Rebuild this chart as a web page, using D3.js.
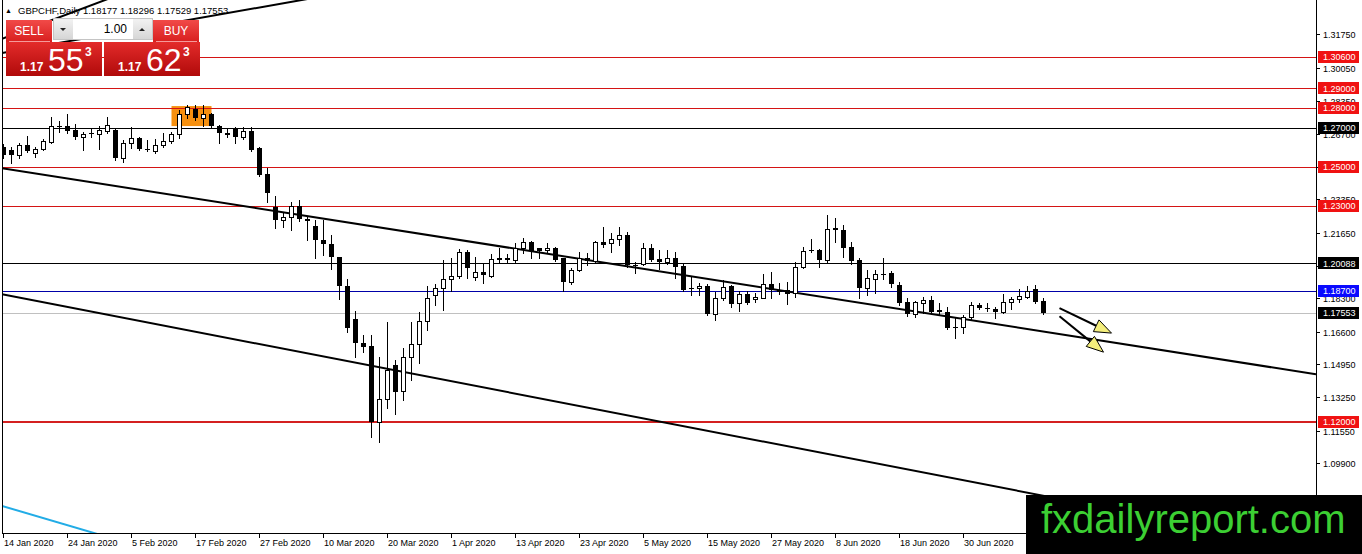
<!DOCTYPE html>
<html><head><meta charset="utf-8">
<script src="https://cdn.jsdelivr.net/npm/d3@7/dist/d3.min.js"></script>
<style>html,body{margin:0;padding:0;background:#fff;overflow:hidden}svg{display:block}</style>
</head><body>
<script>
// ---------------- DATA ----------------
const symbolTitle = "GBPCHF,Daily";
const firstDay = "2020-01-14", lastDay = "2020-07-14";
const dateTickLabels = ["14 Jan 2020","24 Jan 2020","5 Feb 2020","17 Feb 2020","27 Feb 2020","10 Mar 2020","20 Mar 2020","1 Apr 2020","13 Apr 2020","23 Apr 2020","5 May 2020","15 May 2020","27 May 2020","8 Jun 2020","18 Jun 2020","30 Jun 2020"];
const priceTicks = [1.31750,1.30050,1.28350,1.26700,1.25000,1.23350,1.21650,1.19950,1.18300,1.16600,1.14950,1.13250,1.11550,1.09900,1.08200];

const open = [
1.2602,1.2586,1.2561,1.2612,1.2571,1.2591,1.2627,1.2709,1.2709,1.2688,
1.2653,1.2673,1.2668,1.2683,1.2688,1.2546,1.2622,1.2647,1.2591,1.2581,
1.2612,1.2632,1.2668,1.2770,1.2795,1.2749,1.2770,1.2709,1.2673,1.2698,
1.2653,1.2683,1.2596,1.2464,1.2295,1.2229,1.2244,1.2300,1.2234,1.2198,
1.2127,1.2107,1.2040,1.1893,1.1724,1.1602,1.1587,1.1199,1.1316,1.1490,
1.1357,1.1531,1.1597,1.1714,1.1847,1.1882,1.1928,1.1944,1.2066,1.1940,
1.1964,1.1944,1.2030,1.2035,1.2025,1.2086,1.2117,1.2086,1.2076,1.2086,
1.2035,1.1913,1.1974,1.2035,1.2020,1.2117,1.2112,1.2132,1.2153,1.2000,
1.2005,1.2086,1.2030,1.2015,1.2035,1.1994,1.1882,1.1882,1.1893,1.1750,
1.1831,1.1893,1.1806,1.1852,1.1826,1.1831,1.1903,1.1872,1.1872,1.1857,
1.1989,1.2074,1.2076,1.2025,1.2188,1.2178,1.2091,1.2025,1.1882,1.1928,
1.1954,1.1959,1.1898,1.1811,1.1750,1.1806,1.1821,1.1770,1.1760,1.1686,
1.1684,1.1735,1.1796,1.1783,1.1775,1.1760,1.1811,1.1826,1.1837,1.1877,
1.18177];
const high = [
1.2617,1.2602,1.2622,1.2658,1.2602,1.2642,1.2755,1.2734,1.2770,1.2719,
1.2678,1.2698,1.2709,1.2755,1.2698,1.2637,1.2704,1.2653,1.2637,1.2642,
1.2673,1.2678,1.2790,1.2816,1.2816,1.2816,1.2775,1.2714,1.2698,1.2704,
1.2704,1.2704,1.2602,1.2494,1.2352,1.2270,1.2321,1.2331,1.2244,1.2229,
1.2229,1.2153,1.2043,1.1928,1.1765,1.1643,1.1643,1.1531,1.1709,1.1515,
1.1576,1.1709,1.1760,1.1893,1.1903,1.2025,1.2035,1.2081,1.2076,1.2040,
1.2010,1.2056,1.2086,1.2056,1.2112,1.2138,1.2122,1.2089,1.2112,1.2091,
1.2035,1.1984,1.2066,1.2061,1.2122,1.2193,1.2163,1.2193,1.2168,1.2015,
1.2112,1.2107,1.2076,1.2076,1.2066,1.2005,1.1938,1.1908,1.1903,1.1862,
1.1923,1.1898,1.1867,1.1867,1.1857,1.1954,1.1964,1.1908,1.1913,1.2015,
1.2091,1.2132,1.2081,1.2255,1.2239,1.2204,1.2117,1.2035,1.1974,1.1974,
1.2035,1.1969,1.1913,1.1831,1.1816,1.1837,1.1842,1.1806,1.1786,1.1729,
1.1745,1.1811,1.1806,1.1806,1.1786,1.1852,1.1837,1.1877,1.1893,1.1898,
1.18296];
const low = [
1.2546,1.2520,1.2546,1.2576,1.2551,1.2586,1.2622,1.2678,1.2673,1.2642,
1.2586,1.2653,1.2591,1.2673,1.2535,1.2525,1.2596,1.2586,1.2581,1.2571,
1.2602,1.2622,1.2647,1.2749,1.2739,1.2709,1.2704,1.2622,1.2653,1.2622,
1.2642,1.2581,1.2454,1.2321,1.2188,1.2194,1.2178,1.2224,1.2127,1.2035,
1.2051,1.1979,1.1826,1.1658,1.1531,1.1556,1.1122,1.1097,1.1270,1.1240,
1.1311,1.1413,1.1500,1.1668,1.1796,1.1770,1.1867,1.1933,1.1933,1.1923,
1.1908,1.1938,1.2015,1.2015,1.2015,1.2061,1.2035,1.2035,1.2066,1.2020,
1.1867,1.1903,1.1969,1.2000,1.2015,1.2091,1.2066,1.2102,1.1990,1.1959,
1.2000,1.2020,1.1979,1.2005,1.1933,1.1867,1.1847,1.1847,1.1745,1.1719,
1.1821,1.1786,1.1765,1.1801,1.1811,1.1831,1.1831,1.1852,1.1801,1.1837,
1.1984,1.2066,1.1989,1.2015,1.2117,1.2040,1.2005,1.1831,1.1847,1.1857,
1.1928,1.1887,1.1796,1.1740,1.1735,1.1755,1.1755,1.1745,1.1674,1.1627,
1.1653,1.1724,1.1775,1.1765,1.1729,1.1755,1.1775,1.1811,1.1831,1.1808,
1.17529];
const close = [
1.2561,1.2561,1.2612,1.2581,1.2591,1.2632,1.2709,1.2706,1.2683,1.2653,
1.2668,1.2668,1.2688,1.2714,1.2546,1.2622,1.2647,1.2591,1.2588,1.2612,
1.2632,1.2668,1.2770,1.2806,1.2749,1.2770,1.2709,1.2673,1.2665,1.2653,
1.2683,1.2586,1.2459,1.2367,1.2229,1.2244,1.2300,1.2234,1.2224,1.2127,
1.2107,1.2040,1.1893,1.1679,1.1602,1.1582,1.1199,1.1316,1.1464,1.1352,
1.1531,1.1597,1.1714,1.1831,1.1882,1.1928,1.1944,1.2066,1.1984,1.1962,
1.1949,1.2030,1.2035,1.2025,1.2086,1.2117,1.2071,1.2071,1.2086,1.2025,
1.1913,1.1974,1.2035,1.2020,1.2117,1.2102,1.2132,1.2153,1.2000,1.1997,
1.2086,1.2025,1.2015,1.2035,1.1989,1.1872,1.1877,1.1893,1.1750,1.1831,
1.1887,1.1801,1.1852,1.1806,1.1837,1.1903,1.1872,1.1862,1.1852,1.1989,
1.2071,1.2071,1.2025,1.2183,1.2178,1.2086,1.2020,1.1882,1.1933,1.1954,
1.1951,1.1903,1.1806,1.1750,1.1811,1.1821,1.1760,1.1760,1.1679,1.1684,
1.1735,1.1796,1.1780,1.1780,1.1760,1.1811,1.1826,1.1842,1.1867,1.1811,
1.17553];

const redLevels = [1.30600, 1.29000, 1.28000, 1.25000, 1.23000];
const supportLevel = 1.12000;
const blackLevels = [1.27000, 1.20088];
const blueLevels = [1.18700];
const bidLevel = 1.17553;
const askPrice = ["1.17", "62", "3"];
const bidPrice = ["1.17", "55", "3"];
const lotSize = "1.00";

// chart objects anchored at [bar index, price]
const channelTop = [[0, 1.2492], [130, 1.1661]];
const channelBottom = [[0, 1.1849], [130, 1.0824]];
const cyanLine = [[0, 1.0770], [10, 1.0650]];
const upperLine1 = [[0, 1.3082], [30, 1.3298]];
const upperLine2 = [[0, 1.3156], [10, 1.3309]];
const rectangle = [[21, 1.2810], [26, 1.2708]];
const arrows = [[[132, 1.1780], [138.5, 1.1653]], [[132, 1.1739], [137.5, 1.1556]]];

// ---------------- LAYOUT ----------------
const W = 1362, H = 554;
const plot = {left: 2, right: 1316, top: 0, bottom: 533};
const font = "'Liberation Sans', Arial, sans-serif";

const dates = d3.timeDay.range(new Date(firstDay + "T00:00"), d3.timeDay.offset(new Date(lastDay + "T00:00"), 1))
  .filter(d => d.getDay() !== 0 && d.getDay() !== 6);
const fmt = d3.timeFormat("%-d %b %Y");
const n = dates.length;

const x = d3.scaleLinear().domain([0, n - 1]).range([3.5, 3.5 + 8 * (n - 1)]);
const y = d3.scaleLinear().domain([1.306, 1.12]).range([57, 422]);
const crisp = v => Math.round(v) + 0.5;

const svg = d3.select("body").append("svg").attr("width", W).attr("height", H)
  .style("font-family", font);
svg.append("rect").attr("width", W).attr("height", H).attr("fill", "#fff");

const defs = svg.append("defs");
defs.append("clipPath").attr("id", "plotclip").append("rect")
  .attr("x", plot.left).attr("y", plot.top).attr("width", plot.right - plot.left).attr("height", plot.bottom - plot.top);
function grad(id, c1, c2) {
  const g = defs.append("linearGradient").attr("id", id).attr("x1", 0).attr("y1", 0).attr("x2", 0).attr("y2", 1);
  g.append("stop").attr("offset", "0%").attr("stop-color", c1);
  g.append("stop").attr("offset", "100%").attr("stop-color", c2);
}
grad("btnGrad", "#f14a48", "#d81f1f");
grad("boxGrad", "#e32b2a", "#b00a0a");
grad("greyGrad", "#f2f2f2", "#d6d6d6");

const g = svg.append("g").attr("clip-path", "url(#plotclip)");

// rectangle object
g.append("rect")
  .attr("x", x(rectangle[0][0])).attr("y", y(rectangle[0][1]))
  .attr("width", x(rectangle[1][0]) - x(rectangle[0][0]))
  .attr("height", y(rectangle[1][1]) - y(rectangle[0][1]))
  .attr("fill", "#f7900f");

// horizontal levels
function hline(p, color, w) {
  const yy = w === 1 ? crisp(y(p)) : Math.round(y(p));
  g.append("line").attr("x1", plot.left).attr("x2", plot.right)
    .attr("y1", yy).attr("y2", yy)
    .attr("stroke", color).attr("stroke-width", w);
}
redLevels.forEach(p => hline(p, "#d41414", 1));
hline(supportLevel, "#d42020", 2);
blackLevels.forEach(p => hline(p, "#000", 1));
blueLevels.forEach(p => hline(p, "#0000a8", 1));
hline(bidLevel, "#c0c0c0", 1);

// trend lines as rays through two anchors
function ray(pts, color, w) {
  const x1 = x(pts[0][0]), y1 = y(pts[0][1]), x2 = x(pts[1][0]), y2 = y(pts[1][1]);
  const s = (y2 - y1) / (x2 - x1);
  g.append("line")
    .attr("x1", plot.left).attr("y1", y1 + (plot.left - x1) * s)
    .attr("x2", plot.right).attr("y2", y1 + (plot.right - x1) * s)
    .attr("stroke", color).attr("stroke-width", w);
}
ray(channelTop, "#000", 2);
ray(channelBottom, "#000", 2);
ray(cyanLine, "#22ace6", 2);
ray(upperLine1, "#000", 2);
ray(upperLine2, "#000", 2);

// candles
const bars = d3.range(n).map(i => ({i, o: open[i], h: high[i], l: low[i], c: close[i]}));
const cg = g.append("g");
cg.selectAll("line.wick").data(bars).join("line")
  .attr("x1", d => x(d.i)).attr("x2", d => x(d.i))
  .attr("y1", d => Math.round(y(d.h))).attr("y2", d => Math.round(y(d.l)) + 1)
  .attr("stroke", "#000").attr("stroke-width", 1);
cg.selectAll("rect.body").data(bars).join("rect")
  .attr("x", d => d.c > d.o ? x(d.i) - 2 : x(d.i) - 2.5)
  .attr("width", d => d.c > d.o ? 4 : 5)
  .attr("y", d => {
    const t = Math.round(y(Math.max(d.o, d.c)));
    return d.c > d.o ? t + 0.5 : t;
  })
  .attr("height", d => {
    const t = Math.round(y(Math.max(d.o, d.c))), b = Math.round(y(Math.min(d.o, d.c)));
    return Math.max(b - t, 1);
  })
  .attr("fill", d => d.c > d.o ? "#fff" : "#000")
  .attr("stroke", d => d.c > d.o ? "#000" : "none")
  .attr("stroke-width", 1);

// arrows
arrows.forEach(a => {
  const x1 = x(a[0][0]), y1 = y(a[0][1]), x2 = x(a[1][0]), y2 = y(a[1][1]);
  const len = Math.hypot(x2 - x1, y2 - y1), ux = (x2 - x1) / len, uy = (y2 - y1) / len;
  const hl = 17, hw = 6.5;
  const bx = x2 - ux * hl, by = y2 - uy * hl;
  g.append("line").attr("x1", x1).attr("y1", y1).attr("x2", bx).attr("y2", by)
    .attr("stroke", "#000").attr("stroke-width", 2);
  g.append("path")
    .attr("d", `M${x2},${y2}L${bx - uy * hw},${by + ux * hw}L${bx + uy * hw},${by - ux * hw}Z`)
    .attr("fill", "#f4ee7c").attr("stroke", "#000").attr("stroke-width", 1);
});

// frame
svg.append("line").attr("x1", plot.left + 0.5).attr("x2", plot.left + 0.5).attr("y1", 0).attr("y2", plot.bottom).attr("stroke", "#000");
svg.append("line").attr("x1", plot.right + 0.5).attr("x2", plot.right + 0.5).attr("y1", 0).attr("y2", plot.bottom + 1).attr("stroke", "#000");
svg.append("line").attr("x1", plot.left).attr("x2", plot.right + 1).attr("y1", plot.bottom + 0.5).attr("y2", plot.bottom + 0.5).attr("stroke", "#000");

// right price axis
const allLevels = redLevels.concat([supportLevel], blackLevels, blueLevels, [bidLevel]);
const ax = svg.append("g");
priceTicks.forEach(p => {
  const yy = crisp(y(p));
  ax.append("line").attr("x1", plot.right + 1).attr("x2", plot.right + 4).attr("y1", yy).attr("y2", yy).attr("stroke", "#000");
  // labels fully covered by a level tag are not visible in the terminal
  const covered = allLevels.some(l => Math.abs(y(l) - y(p)) < 4);
  if (!covered) {
    ax.append("text").attr("x", plot.right + 7).attr("y", yy).attr("dy", "0.35em")
      .attr("font-size", 9).attr("fill", "#000").text(p.toFixed(5));
  }
});
function levelLabel(p, bg) {
  const yy = y(p);
  ax.append("rect").attr("x", plot.right + 2).attr("y", Math.round(yy) - 6).attr("width", 41).attr("height", 12).attr("fill", bg);
  ax.append("text").attr("x", plot.right + 7).attr("y", yy).attr("dy", "0.36em")
    .attr("font-size", 9).attr("fill", "#fff").text(p.toFixed(5));
}
redLevels.forEach(p => levelLabel(p, "#f01212"));
levelLabel(supportLevel, "#f01212");
blackLevels.forEach(p => levelLabel(p, "#000"));
blueLevels.forEach(p => levelLabel(p, "#0a0aff"));
levelLabel(bidLevel, "#000");

// bottom date axis
const bxg = svg.append("g");
dateTickLabels.forEach(lbl => {
  const i = dates.findIndex(d => fmt(d) === lbl);
  if (i < 0) return;
  const xx = Math.round(x(i)) - 0.5;
  bxg.append("line").attr("x1", xx).attr("x2", xx).attr("y1", plot.bottom + 1).attr("y2", plot.bottom + 5).attr("stroke", "#000");
  bxg.append("text").attr("x", xx + 0.5).attr("y", 546).attr("font-size", 9).attr("fill", "#000").text(lbl);
});

// header
svg.append("text").attr("x", 5).attr("y", 13).attr("font-size", 7).attr("fill", "#000").text("▲");
svg.append("text").attr("x", 18).attr("y", 14).attr("font-size", 9.5).attr("fill", "#000")
  .text(`${symbolTitle} ${open[n-1].toFixed(5)} ${high[n-1].toFixed(5)} ${low[n-1].toFixed(5)} ${close[n-1].toFixed(5)}`);

// one-click trading panel
const pn = svg.append("g");
pn.append("rect").attr("x", 6).attr("y", 20).attr("width", 46).attr("height", 22).attr("fill", "url(#btnGrad)");
pn.append("rect").attr("x", 153).attr("y", 20).attr("width", 46).attr("height", 22).attr("fill", "url(#btnGrad)");
pn.append("line").attr("x1", 9).attr("x2", 50).attr("y1", 41.5).attr("y2", 41.5).attr("stroke", "#f59a9a");
pn.append("line").attr("x1", 156).attr("x2", 197).attr("y1", 41.5).attr("y2", 41.5).attr("stroke", "#f59a9a");
pn.append("text").attr("x", 29).attr("y", 35).attr("text-anchor", "middle").attr("font-size", 12).attr("fill", "#fff").text("SELL");
pn.append("text").attr("x", 176).attr("y", 35).attr("text-anchor", "middle").attr("font-size", 12).attr("fill", "#fff").text("BUY");
// lot box
pn.append("rect").attr("x", 53.5).attr("y", 18.5).attr("width", 99).attr("height", 21).attr("fill", "#fff").attr("stroke", "#c4c4c4");
pn.append("rect").attr("x", 54).attr("y", 19).attr("width", 19).attr("height", 20).attr("fill", "url(#greyGrad)");
pn.append("rect").attr("x", 133).attr("y", 19).attr("width", 19).attr("height", 20).attr("fill", "url(#greyGrad)");
pn.append("path").attr("d", "M60,28L66,28L63,31Z").attr("fill", "#222");
pn.append("path").attr("d", "M139,31L145,31L142,28Z").attr("fill", "#222");
pn.append("text").attr("x", 127).attr("y", 33).attr("text-anchor", "end").attr("font-size", 12).attr("fill", "#000").text(lotSize);
// price boxes
function priceBox(x0, parts) {
  pn.append("rect").attr("x", x0).attr("y", 42).attr("width", 96).attr("height", 34).attr("fill", "url(#boxGrad)");
  pn.append("text").attr("x", x0 + 14).attr("y", 71).attr("font-size", 12).attr("font-weight", "bold").attr("fill", "#fff").text(parts[0]);
  pn.append("text").attr("x", x0 + 42).attr("y", 71).attr("font-size", 32).attr("fill", "#fff").text(parts[1]);
  pn.append("text").attr("x", x0 + 79).attr("y", 56).attr("font-size", 12).attr("font-weight", "bold").attr("fill", "#fff").text(parts[2]);
}
priceBox(6, bidPrice);
priceBox(104, askPrice);

// watermark
svg.append("rect").attr("x", 1026).attr("y", 495).attr("width", W - 1026).attr("height", H - 495).attr("fill", "#000");
svg.append("text").attr("x", 1041).attr("y", 533).attr("font-size", 40).attr("fill", "#3ccf33").text("fxdailyreport.com");
</script>
</body></html>
